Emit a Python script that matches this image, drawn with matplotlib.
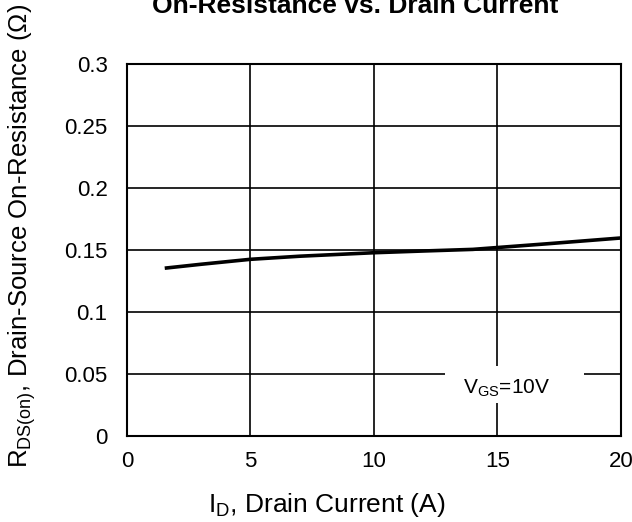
import matplotlib.pyplot as plt
from matplotlib.patches import Rectangle

plt.rcParams["font.family"] = ["Liberation Sans", "DejaVu Sans"]

# Data
drain_current = [1.6, 3, 5, 7, 10, 12, 14, 15, 17, 20]
r_ds_on = [0.1355, 0.1385, 0.1425, 0.1450, 0.1478, 0.1492, 0.1505, 0.1520, 0.1550, 0.1597]

x_ticks = [0, 5, 10, 15, 20]
y_ticks = [0, 0.05, 0.1, 0.15, 0.2, 0.25, 0.3]
y_tick_labels = ["0", "0.05", "0.1", "0.15", "0.2", "0.25", "0.3"]

fig = plt.figure(figsize=(6.32, 5.22), dpi=100)
ax = fig.add_axes([127 / 632, 1 - 436 / 522, (621 - 127) / 632, (436 - 64) / 522])

ax.plot(drain_current, r_ds_on, color="black", linewidth=2.6, zorder=3)

ax.set_xlim(0, 20)
ax.set_ylim(0, 0.3)
ax.set_xticks(x_ticks)
ax.set_yticks(y_ticks)
ax.set_yticklabels(y_tick_labels)
ax.tick_params(length=0, labelsize=16)
ax.tick_params(axis="y", pad=14)
ax.tick_params(axis="x", pad=11)
ax.grid(True, color="black", linewidth=1.2)
for s in ax.spines.values():
    s.set_linewidth(1.5)

# white label box that hides the grid behind the annotation
ax.add_patch(Rectangle((0.644, 0.089), 0.281, 0.099, transform=ax.transAxes,
                       facecolor="white", edgecolor="none", zorder=2.5))
ax.text(15.35, 0.0385, "V$_{\\mathregular{GS}}$=10V", fontsize=15, ha="center", va="center", zorder=4)

ax.set_xlabel("I$_{\\mathregular{D}}$, Drain Current (A)", fontsize=19)
ax.xaxis.set_label_coords(0.405, -0.148)
ax.set_ylabel("R$_{\\mathregular{DS(on)}}$, Drain-Source On-Resistance (Ω)", fontsize=18.5)
ax.yaxis.set_label_coords(-0.18, 0.538)
fig.text(355 / 632, 1 - 13 / 522, "On-Resistance vs. Drain Current", fontsize=19, fontweight="bold",
         ha="center", va="baseline")

fig.savefig("out.png", dpi=100)
